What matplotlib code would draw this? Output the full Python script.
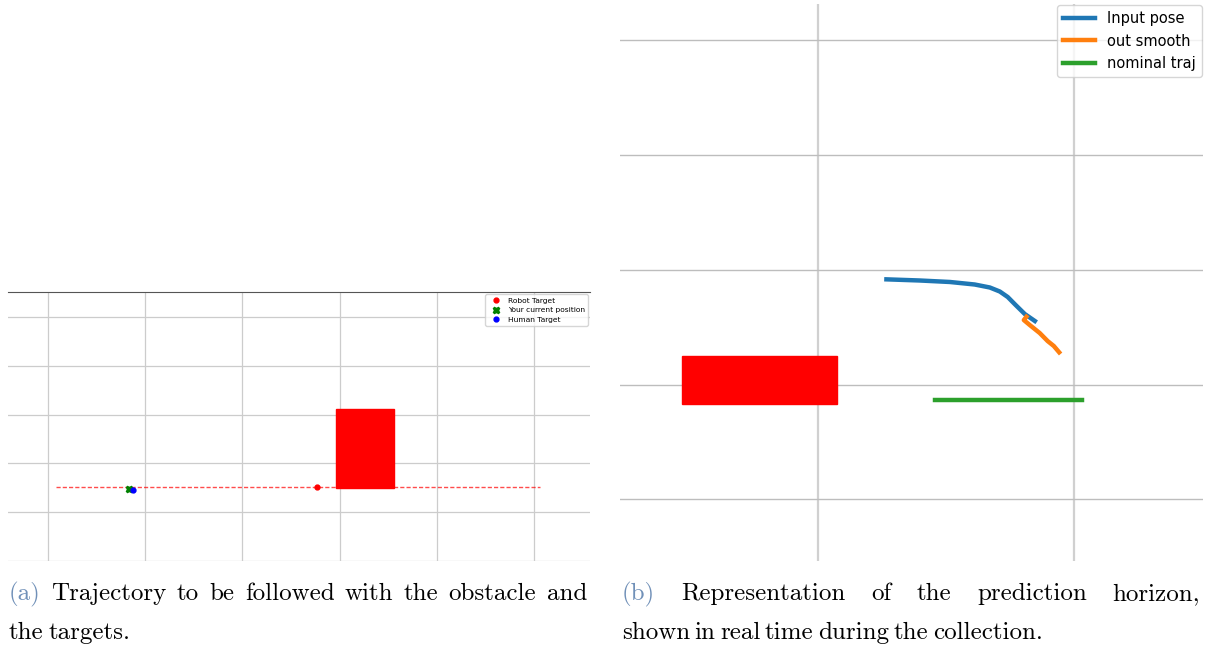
import matplotlib

matplotlib.use("Agg")
import matplotlib.pyplot as plt
from matplotlib.patches import Rectangle

W_PX, H_PX = 1205, 646

# panel (a): planar trajectory with obstacle and targets
traj_x = [0.08, 5.07]
traj_y = [1.51, 1.51]
obst_a = (2.96, 1.50, 0.60, 1.62)  # x, y, width, height
robot_target = (2.77, 1.51)
current_pos = (0.83, 1.46)
human_target = (0.87, 1.45)
grid_a_x = [0, 1, 2, 3, 4, 5]
grid_a_y = [0, 1, 2, 3, 4, 5]

# panel (b): prediction horizon
input_x = [0.268, 0.398, 0.516, 0.613, 0.672, 0.711, 0.742, 0.773, 0.809, 0.848]
input_y = [1.918, 1.908, 1.895, 1.873, 1.847, 1.812, 1.764, 1.694, 1.615, 1.555]
smooth_x = [0.815, 0.805, 0.828, 0.867, 0.898, 0.922, 0.943]
smooth_y = [1.592, 1.563, 1.520, 1.450, 1.380, 1.337, 1.282]
nominal_x = [0.457, 1.031]
nominal_y = [0.863, 0.863]
obst_b = (-0.531, 0.833, 0.605, 0.416)
grid_b_x = [0, 1]
grid_b_y = [0, 1, 2, 3, 4]

caption_a = [["(a)", "Trajectory", "to", "be", "followed", "with", "the", "obstacle", "and"],
             ["the", "targets."]]
caption_b = [["(b)", "Representation", "of", "the", "prediction", "horizon,"],
             ["shown", "in", "real", "time", "during", "the", "collection."]]


def px_axes(fig, x0, y0, x1, y1):
    return fig.add_axes([x0 / W_PX, 1 - y1 / H_PX, (x1 - x0) / W_PX, (y1 - y0) / H_PX])


def bare(ax):
    ax.tick_params(length=0, labelbottom=False, labelleft=False)
    for s in ax.spines.values():
        s.set_visible(False)


fig = plt.figure(figsize=(W_PX / 100, H_PX / 100), dpi=100)

# ---- panel (a)
ax = px_axes(fig, 8, 292, 590, 561)
bare(ax)
ax.spines["top"].set_visible(True)
ax.spines["top"].set_color("#555555")
ax.set_xlim(-0.415, 5.58)
ax.set_ylim(-0.01, 5.52)
ax.set_xticks(grid_a_x)
ax.set_yticks(grid_a_y)
ax.grid(True, color="#cccccc", linewidth=0.9)
ax.set_axisbelow(True)
ax.plot(traj_x, traj_y, "--", color="red", linewidth=1.0, alpha=0.7, dashes=(3, 1.5))
ax.add_patch(Rectangle(obst_a[:2], obst_a[2], obst_a[3], color="red", zorder=3))
ax.plot(*robot_target, "o", color="red", markersize=3.5, linestyle="none", label="Robot Target")
ax.plot(*current_pos, "X", color="green", markersize=4.5, linestyle="none", label="Your current position")
ax.plot(*human_target, "o", color="blue", markersize=3.5, linestyle="none", label="Human Target")
ax.legend(loc="upper right", fontsize=5.4, borderaxespad=0.3, handletextpad=0.6, labelspacing=0.45)

# ---- panel (b)
bx = px_axes(fig, 620, 4, 1203, 561)
bare(bx)
bx.set_xlim(-0.773, 1.505)
bx.set_ylim(-0.537, 4.318)
bx.set_xticks(grid_b_x)
bx.set_yticks(grid_b_y)
bx.xaxis.grid(True, color="#d0d0d0", linewidth=1.6)
bx.yaxis.grid(True, color="#bdbdbd", linewidth=1.0)
bx.set_axisbelow(True)
bx.plot(input_x, input_y, color="#1f77b4", linewidth=3.2, label="Input pose")
bx.plot(smooth_x, smooth_y, color="#ff7f0e", linewidth=3.2, label="out smooth")
bx.plot(nominal_x, nominal_y, color="#2ca02c", linewidth=3.2, label="nominal traj")
bx.add_patch(Rectangle(obst_b[:2], obst_b[2], obst_b[3], color="red", zorder=1.5))
bx.legend(loc="upper right", fontsize=10.5, borderaxespad=0.1, handlelength=2.2,
          labelspacing=0.5)

# ---- captions, justified like the LaTeX subcaptions
renderer = fig.canvas.get_renderer()
CAP_FONT = dict(family="cmr10", fontsize=18)
LABEL_COLOR = "#7090b8"
WORD_GAP = 4.5


def put_line(words, x0, x1, base, justify):
    texts = []
    for w in words:
        color = LABEL_COLOR if w in ("(a)", "(b)") else "black"
        texts.append(fig.text(0, 1 - base / H_PX, w, color=color, va="baseline", **CAP_FONT))
    widths = [t.get_window_extent(renderer).width for t in texts]
    gap = (x1 - x0 - sum(widths)) / (len(words) - 1) if justify else WORD_GAP
    x = x0
    for t, w in zip(texts, widths):
        t.set_x(x / W_PX)
        x += w + gap


put_line(caption_a[0], 9, 587, 600, True)
put_line(caption_a[1], 9, 587, 639, False)
put_line(caption_b[0], 622, 1200, 600, True)
put_line(caption_b[1], 622, 1200, 639, False)

fig.savefig("out.png", dpi=100)
